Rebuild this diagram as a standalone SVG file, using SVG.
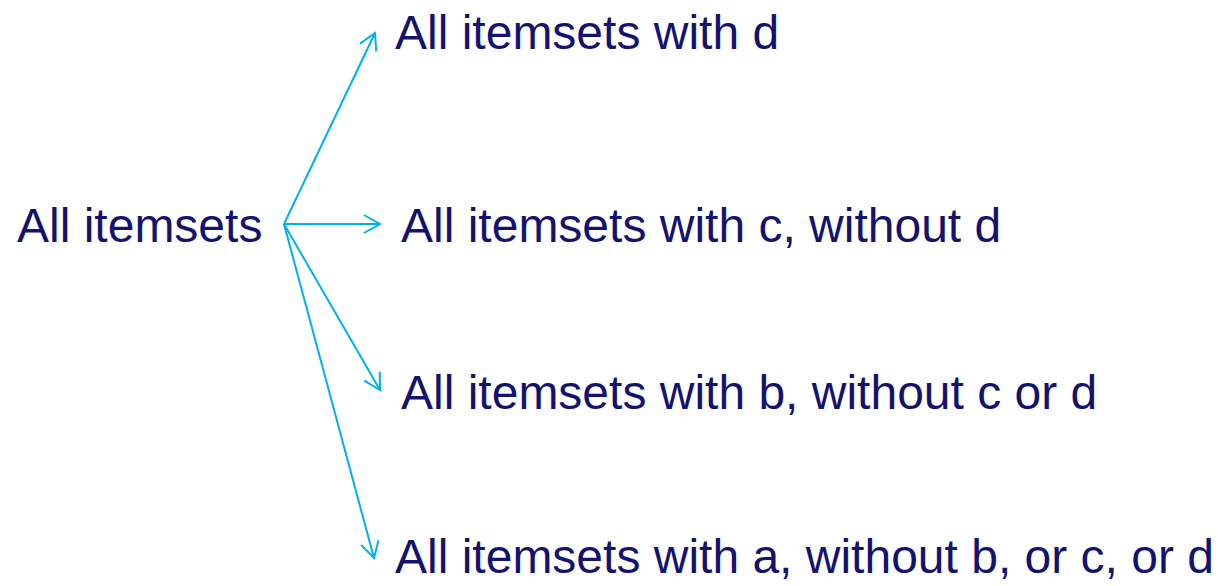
<svg xmlns="http://www.w3.org/2000/svg" width="1218" height="586" viewBox="0 0 1218 586">
  <style>
    .label { font-family: "Liberation Sans", Arial, sans-serif; font-size: 48px; fill: #13136f; }
    .edge { stroke: #00b0f0; stroke-width: 2; fill: none; marker-end: url(#arrow); }
  </style>
  <defs>
    <marker id="arrow" viewBox="-18 -11 20 22" refX="0" refY="0" markerWidth="20" markerHeight="22" markerUnits="userSpaceOnUse" orient="auto">
      <path d="M-16,-9 L0,0 L-16,9" stroke="#00b0f0" stroke-width="2" fill="none" stroke-linejoin="miter"/>
    </marker>
  </defs>
  <rect width="1218" height="586" fill="#ffffff"/>

  <g id="connectors">
    <line class="edge" x1="284" y1="224" x2="375" y2="33"/>
    <line class="edge" x1="284" y1="224" x2="380" y2="224"/>
    <line class="edge" x1="284" y1="224" x2="380" y2="390"/>
    <line class="edge" x1="284" y1="224" x2="374" y2="558"/>
  </g>

  <g id="root">
    <text class="label" x="17" y="242">All itemsets</text>
  </g>
  <g id="with-d">
    <text class="label" x="395" y="49">All itemsets with d</text>
  </g>
  <g id="with-c">
    <text class="label" x="401" y="242">All itemsets with c, without d</text>
  </g>
  <g id="with-b">
    <text class="label" x="401" y="409">All itemsets with b, without c or d</text>
  </g>
  <g id="with-a">
    <text class="label" x="395" y="573">All itemsets with a, without b, or c, or d</text>
  </g>
</svg>
